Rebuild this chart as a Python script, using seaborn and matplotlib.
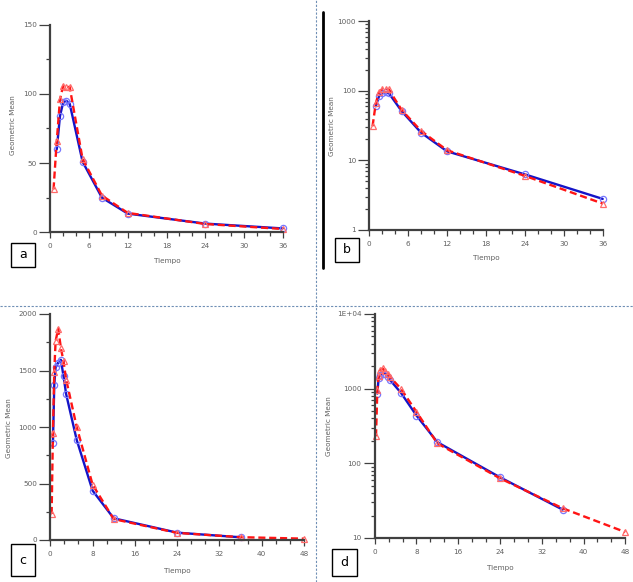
import numpy as np
import pandas as pd
import matplotlib
matplotlib.use("Agg")
import matplotlib.pyplot as plt
import seaborn as sns
from matplotlib.patches import Rectangle
from matplotlib.lines import Line2D
from matplotlib.ticker import FixedLocator, MultipleLocator, LogLocator, FuncFormatter, NullFormatter

# data (hours vs geometric mean)
tiempo_ab = [0.5, 1, 1.5, 2, 2.5, 3, 5, 8, 12, 24, 36]
ref_ab = [np.nan, 60, 84, 94, 95, 93, 51, 25, 13.5, 6.3, 2.8]
test_ab = [31, 66, 96, 106, 105, 105, 53, 26.5, 14, 6.0, 2.4]

tiempo_cd = [0.25, 0.5, 0.75, 1, 1.5, 2, 2.5, 3, 5, 8, 12, 24, 36, 48]
ref_cd = [np.nan, 860, 1370, 1530, 1570, 1595, 1450, 1290, 885, 437, 192, 65, 24, np.nan]
test_cd = [230, 950, 1490, 1760, 1870, 1700, 1580, 1420, 1000, 490, 185, 63, 25, 12]

sns.set_style("ticks")
plt.rcParams['font.family'] = ['DejaVu Sans']

W, H = 633, 582
fig = plt.figure(figsize=(W / 100, H / 100), dpi=100)
fig.patch.set_facecolor('white')

BLUE = '#1414c8'
RED = '#ff1414'
AXC = '#404040'
TXT = '#606060'


def px_axes(left, right, top, bottom):
    return fig.add_axes([left / W, 1 - bottom / H, (right - left) / W, (bottom - top) / H])


def draw(ax, t, ref, test):
    df = pd.DataFrame({'Tiempo': t, 'ref': ref, 'test': test})
    d1 = df.dropna(subset=['ref'])
    d2 = df.dropna(subset=['test'])
    sns.lineplot(data=d1, x='Tiempo', y='ref', ax=ax, color=BLUE, lw=1.7,
                 marker='o', markersize=4.5, markerfacecolor='none',
                 markeredgecolor='#7878ff', markeredgewidth=0.9, estimator=None, clip_on=False)
    sns.lineplot(data=d2, x='Tiempo', y='test', ax=ax, color=RED, lw=1.7,
                 linestyle=(0, (3, 1.6)), marker='^', markersize=4.5, markerfacecolor='none',
                 markeredgecolor='#ff6a6a', markeredgewidth=0.9, estimator=None, clip_on=False)


def style(ax, xmax, xmaj):
    sns.despine(ax=ax)
    for s in ['left', 'bottom']:
        ax.spines[s].set_color(AXC)
        ax.spines[s].set_linewidth(1.6)
    ax.set_xlim(0, xmax)
    ax.xaxis.set_major_locator(MultipleLocator(xmaj))
    ax.xaxis.set_minor_locator(MultipleLocator(xmaj / 3))
    ax.tick_params(axis='x', which='major', length=4.5, width=0.9, color=AXC,
                   labelsize=5.2, labelcolor=TXT, pad=3.5)
    ax.tick_params(axis='x', which='minor', length=3, width=0.9, color=AXC)
    ax.tick_params(axis='y', which='major', length=8, width=0.9, color=AXC,
                   labelsize=5.2, labelcolor=TXT, pad=1.5)
    ax.tick_params(axis='y', which='minor', length=3, width=0.9, color=AXC)
    ax.set_facecolor('white')
    ax.grid(False)


def labels(ax, ylab_xy, xlab_xy):
    ax.set_xlabel('Tiempo', fontsize=5.2, color=TXT)
    ax.set_ylabel('Geometric Mean', fontsize=5.2, color=TXT)
    ax.yaxis.set_label_coords(ylab_xy[0] / W, 1 - ylab_xy[1] / H, transform=fig.transFigure)
    ax.xaxis.set_label_coords(xlab_xy[0] / W, 1 - xlab_xy[1] / H, transform=fig.transFigure)
    ax.yaxis.label.set_va('center')
    ax.xaxis.label.set_va('center')


def letter_box(x0, y0, x1, y1, s):
    fig.add_artist(Rectangle((x0 / W, 1 - y1 / H), (x1 - x0) / W, (y1 - y0) / H,
                             transform=fig.transFigure, fill=False, ec='black', lw=1))
    fig.text((x0 + x1) / 2 / W, 1 - (y0 + y1) / 2 / H, s, ha='center', va='center',
             fontsize=9, color='black')


# panel a: linear
ax_a = px_axes(50.3, 282.7, 24.7, 232.3)
draw(ax_a, tiempo_ab, ref_ab, test_ab)
style(ax_a, 36, 6)
ax_a.set_ylim(0, 150)
ax_a.yaxis.set_major_locator(MultipleLocator(50))
ax_a.yaxis.set_minor_locator(MultipleLocator(25))
labels(ax_a, (12.7, 125), (167.7, 261))

# panel b: log
ax_b = px_axes(369.3, 602.7, 21.3, 230)
draw(ax_b, tiempo_ab, ref_ab, test_ab)
style(ax_b, 36, 6)
ax_b.set_yscale('log')
ax_b.set_ylim(1, 1000)
ax_b.yaxis.set_major_locator(FixedLocator([1, 10, 100, 1000]))
ax_b.yaxis.set_minor_locator(LogLocator(base=10, subs=np.arange(2, 10)))
ax_b.yaxis.set_major_formatter(FuncFormatter(lambda v, p: f"{v:.0f}"))
ax_b.yaxis.set_minor_formatter(NullFormatter())
labels(ax_b, (331.7, 125.7), (486, 258.3))

# panel c: linear
ax_c = px_axes(50.3, 304, 314, 540)
draw(ax_c, tiempo_cd, ref_cd, test_cd)
style(ax_c, 48, 8)
ax_c.set_ylim(0, 2000)
ax_c.yaxis.set_major_locator(MultipleLocator(500))
ax_c.yaxis.set_minor_locator(MultipleLocator(250))
labels(ax_c, (9, 427.7), (177.7, 570.7))

# panel d: log
ax_d = px_axes(374.7, 625.3, 314, 538)
draw(ax_d, tiempo_cd, ref_cd, test_cd)
style(ax_d, 48, 8)
ax_d.set_yscale('log')
ax_d.set_ylim(10, 10000)
ax_d.yaxis.set_major_locator(FixedLocator([10, 100, 1000, 10000]))
ax_d.yaxis.set_minor_locator(LogLocator(base=10, subs=np.arange(2, 10)))
ax_d.yaxis.set_major_formatter(FuncFormatter(lambda v, p: "1E+04" if v >= 10000 else f"{v:.0f}"))
ax_d.yaxis.set_minor_formatter(NullFormatter())
labels(ax_d, (328.7, 425.7), (500.3, 568.3))

for ax in [ax_a, ax_b, ax_c, ax_d]:
    leg = ax.get_legend()
    if leg:
        leg.remove()

# panel letters
letter_box(11.3, 242.7, 35.3, 266.7, 'a')
letter_box(335, 238, 359.3, 261.7, 'b')
letter_box(11, 544.3, 35.3, 576.3, 'c')
letter_box(332.3, 549, 356.7, 575.7, 'd')

# separators
sep = '#6f8fb5'
fig.add_artist(Line2D([315.5 / W, 315.5 / W], [0, 1], transform=fig.transFigure,
                      color=sep, lw=0.8, ls=(0, (2, 1.5))))
fig.add_artist(Line2D([0, 1], [1 - 305.5 / H, 1 - 305.5 / H], transform=fig.transFigure,
                      color=sep, lw=0.8, ls=(0, (2, 1.5))))
fig.add_artist(Line2D([323 / W, 323 / W], [1 - 268.3 / H, 1 - 11.7 / H], transform=fig.transFigure,
                      color='black', lw=2))

fig.savefig('out.png', dpi=100, facecolor='white')
